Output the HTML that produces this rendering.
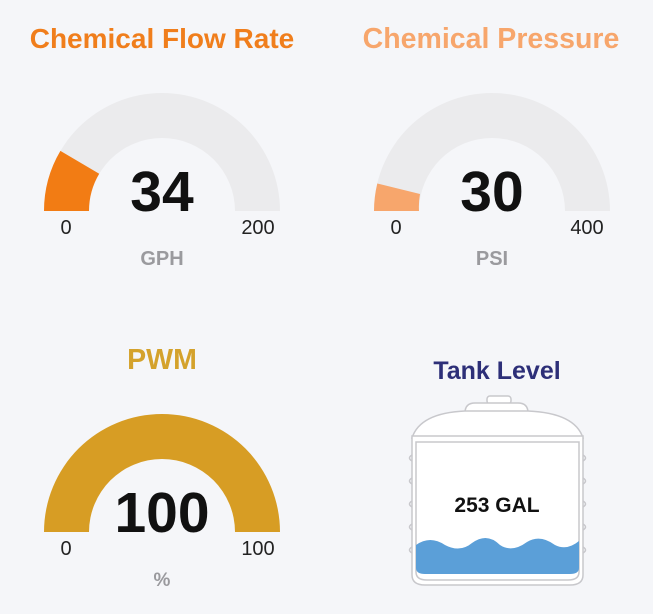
<!DOCTYPE html>
<html><head><meta charset="utf-8"><style>
html,body{margin:0;padding:0;background:#f5f6f9;}
svg{display:block;font-family:"Liberation Sans",Arial,sans-serif;}
</style></head><body>
<svg width="653" height="614" viewBox="0 0 653 614">
<rect width="653" height="614" fill="#f5f6f9"/>
<!-- Titles -->
<text x="162" y="48" text-anchor="middle" font-size="28" font-weight="bold" fill="#f07e1c">Chemical Flow Rate</text>
<text x="491" y="48" text-anchor="middle" font-size="28.5" font-weight="bold" fill="#f7a66c">Chemical Pressure</text>
<text x="162" y="369" text-anchor="middle" font-size="28.5" font-weight="bold" fill="#d4a22c">PWM</text>
<text x="497" y="379" text-anchor="middle" font-size="25" font-weight="bold" fill="#2d2f78">Tank Level</text>

<!-- Gauge 1 -->
<path d="M44 211 A118 118 0 0 1 280 211 L235 211 A73 73 0 0 0 89 211 Z" fill="#ebebed"/>
<path d="M44 211 A118 118 0 0 1 60.4 150.9 L99.2 173.8 A73 73 0 0 0 89 211 Z" fill="#f27c14"/>
<text x="162" y="211" text-anchor="middle" font-size="57" font-weight="bold" fill="#111">34</text>
<text x="66" y="234" text-anchor="middle" font-size="20" fill="#222">0</text>
<text x="258" y="234" text-anchor="middle" font-size="20" fill="#222">200</text>
<text x="162" y="265" text-anchor="middle" font-size="20" font-weight="bold" fill="#9a9a9e">GPH</text>

<!-- Gauge 2 -->
<path d="M374 211 A118 118 0 0 1 610 211 L565 211 A73 73 0 0 0 419 211 Z" fill="#ebebed"/>
<path d="M374 211 A118 118 0 0 1 377.3 183.5 L420 194 A73 73 0 0 0 419 211 Z" fill="#f7a66c"/>
<text x="492" y="211" text-anchor="middle" font-size="57" font-weight="bold" fill="#111">30</text>
<text x="396" y="234" text-anchor="middle" font-size="20" fill="#222">0</text>
<text x="587" y="234" text-anchor="middle" font-size="20" fill="#222">400</text>
<text x="492" y="265" text-anchor="middle" font-size="20" font-weight="bold" fill="#9a9a9e">PSI</text>

<!-- Gauge 3 -->
<path d="M44 532 A118 118 0 0 1 280 532 L235 532 A73 73 0 0 0 89 532 Z" fill="#d79d24"/>
<text x="162" y="532" text-anchor="middle" font-size="57" font-weight="bold" fill="#111">100</text>
<text x="66" y="555" text-anchor="middle" font-size="20" fill="#222">0</text>
<text x="258" y="555" text-anchor="middle" font-size="20" fill="#222">100</text>
<text x="162" y="586" text-anchor="middle" font-size="19" font-weight="bold" fill="#9a9a9e">%</text>

<!-- Tank -->
<g fill="#fff" stroke="#c8c8cc" stroke-width="1.5">
<rect x="487" y="396" width="24" height="8" rx="3"/>
<path d="M465 413 Q465 403 475 403 L518 403 Q528 403 528 413 Z"/>
<path d="M412 438 Q420 413 465 411 L528 411 Q575 413 583 438 Z"/>
<path d="M412 436 L583 436 L583 575 Q583 585 570 585 L425 585 Q412 585 412 575 Z"/>
<path d="M416 442 L579 442 L579 572 Q579 580 568 580 L427 580 Q416 580 416 572 Z"/>
</g>
<g fill="none" stroke="#c8c8cc" stroke-width="1.5">
<path d="M412 455 q-5 3 0 6 M412 478 q-5 3 0 6 M412 501 q-5 3 0 6 M412 524 q-5 3 0 6 M412 547 q-5 3 0 6"/>
<path d="M583 455 q5 3 0 6 M583 478 q5 3 0 6 M583 501 q5 3 0 6 M583 524 q5 3 0 6 M583 547 q5 3 0 6"/>
</g>
<path d="M416 545 Q430 535 445 545 Q460 553 472 543 Q487 532 500 545 Q512 553 527 542 Q540 534 555 545 Q567 551 579 541 L579 568 Q579 574 570 574 L425 574 Q416 574 416 568 Z" fill="#5b9fd8"/>
<text x="497" y="512" text-anchor="middle" font-size="21" font-weight="bold" fill="#111">253 GAL</text>
</svg>
</body></html>
